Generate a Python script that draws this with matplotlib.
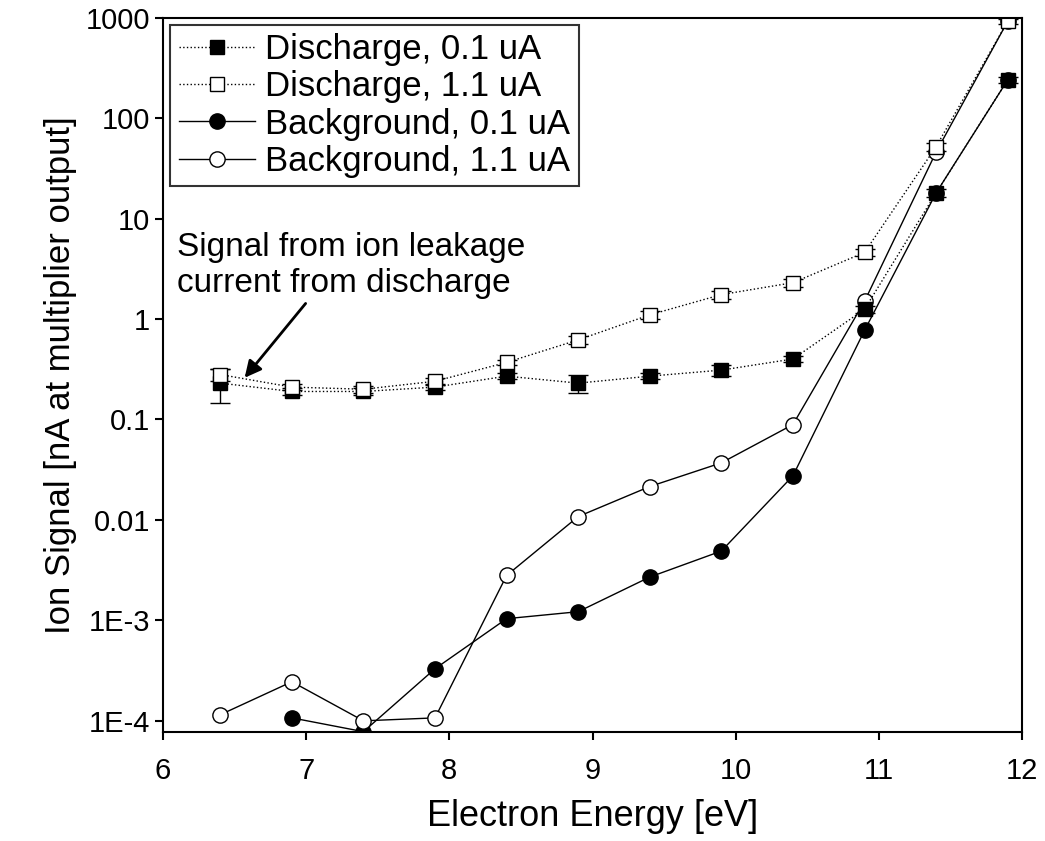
import matplotlib
matplotlib.use("Agg")
import matplotlib.pyplot as plt
from matplotlib.ticker import FixedLocator, NullLocator

plt.rcParams["font.family"] = ["Liberation Sans", "DejaVu Sans"]

energy = [6.4, 6.9, 7.4, 7.9, 8.4, 8.9, 9.4, 9.9, 10.4, 10.9, 11.4, 11.9]
dis_01 = [0.23, 0.19, 0.19, 0.21, 0.27, 0.23, 0.27, 0.31, 0.40, 1.25, 18, 240]
dis_01_err = [0.085, 0.015, 0.015, 0.015, 0.02, 0.045, 0.02, 0.04, 0.03, 0.1, 1.5, 15]
dis_11 = [0.28, 0.21, 0.20, 0.24, 0.37, 0.62, 1.1, 1.75, 2.3, 4.6, 52, 920]
dis_11_err = [0.04, 0.015, 0.015, 0.02, 0.02, 0.05, 0.1, 0.15, 0.2, 0.4, 5, 60]
bg_01 = [None, 1.07e-4, 7.8e-5, 3.3e-4, 1.04e-3, 1.22e-3, 2.7e-3, 4.9e-3, 0.0275, 0.77, 18, 240]
bg_11 = [1.15e-4, 2.45e-4, 1.0e-4, 1.07e-4, 2.8e-3, 0.0108, 0.0215, 0.037, 0.089, 1.5, 46, 920]

ytick_vals = [1e-4, 1e-3, 0.01, 0.1, 1, 10, 100, 1000]
ytick_labels = ["1E-4", "1E-3", "0.01", "0.1", "1", "10", "100", "1000"]

fig = plt.figure(figsize=(10.45, 8.41), dpi=100)
ax = fig.add_axes([0.156, 0.13, 0.822, 0.849])

ms = 10
h1 = ax.errorbar(energy, dis_01, yerr=dis_01_err, fmt="s", ls=":", color="black", lw=1,
                 mfc="black", ms=ms, capsize=7, label="Discharge, 0.1 uA")
h2 = ax.errorbar(energy, dis_11, yerr=dis_11_err, fmt="s", ls=":", color="black", lw=1,
                 mfc="white", ms=ms, capsize=7, label="Discharge, 1.1 uA")
bx = [e for e, v in zip(energy, bg_01) if v is not None]
by = [v for v in bg_01 if v is not None]
h3, = ax.plot(bx, by, "o-", color="black", lw=1, mfc="black", ms=ms + 1,
              label="Background, 0.1 uA")
h4, = ax.plot(energy, bg_11, "o-", color="black", lw=1, mfc="white", ms=ms + 1,
              label="Background, 1.1 uA")

ax.set_yscale("log")
ax.set_xlim(6, 12)
ax.set_ylim(7.8e-5, 1000)
ax.yaxis.set_major_locator(FixedLocator(ytick_vals))
ax.set_yticklabels(ytick_labels)
ax.yaxis.set_minor_locator(NullLocator())
ax.set_xticks(range(6, 13))
ax.tick_params(labelsize=21, width=1.5, length=6)
ax.tick_params(axis="x", pad=12)
for s in ax.spines.values():
    s.set_linewidth(1.5)

ax.set_xlabel("Electron Energy [eV]", fontsize=26, labelpad=10)
ax.set_ylabel("Ion Signal [nA at multiplier output]", fontsize=25, labelpad=6)

ax.annotate("Signal from ion leakage\ncurrent from discharge", xy=(6.57, 0.26),
            xytext=(6.1, 1.6), fontsize=24, ha="left", va="bottom",
            arrowprops=dict(arrowstyle="-|>", color="black", lw=2, mutation_scale=25,
                            shrinkA=2, shrinkB=0, relpos=(0.38, 0)))

handles = [h1[0], h2[0], h3, h4]
labels = ["Discharge, 0.1 uA", "Discharge, 1.1 uA", "Background, 0.1 uA", "Background, 1.1 uA"]
leg = ax.legend(handles, labels, loc="upper left", fontsize=25, frameon=True, fancybox=False,
                edgecolor="black", handlelength=2.2, borderaxespad=0.2,
                labelspacing=0.12, handletextpad=0.3, borderpad=0.25)
leg.get_frame().set_linewidth(1.5)

fig.savefig("out.png", dpi=100)
